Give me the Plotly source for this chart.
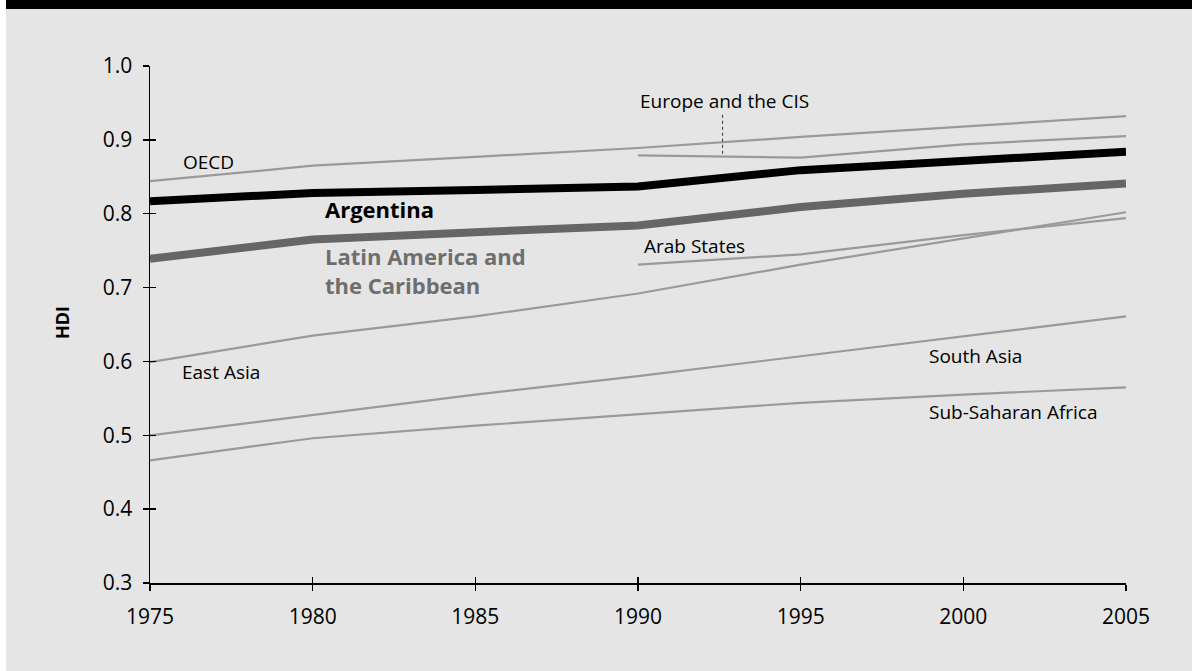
import plotly.graph_objects as go

# ---- data ----
years = [1975, 1980, 1985, 1990, 1995, 2000, 2005]
years_late = [1990, 1995, 2000, 2005]

oecd = [0.844, 0.865, 0.877, 0.889, 0.904, 0.918, 0.932]
europe_cis = [0.879, 0.876, 0.894, 0.905]
arab_states = [0.731, 0.745, 0.771, 0.794]
east_asia = [0.599, 0.635, 0.661, 0.692, 0.731, 0.767, 0.802]
south_asia = [0.500, 0.528, 0.555, 0.580, 0.607, 0.634, 0.661]
ssa = [0.466, 0.496, 0.513, 0.529, 0.544, 0.555, 0.565]
lac = [0.739, 0.765, 0.775, 0.784, 0.809, 0.827, 0.841]
argentina = [0.817, 0.828, 0.832, 0.837, 0.859, 0.872, 0.884]

y_ticks = [0.3, 0.4, 0.5, 0.6, 0.7, 0.8, 0.9, 1.0]
x_ticks = years

# ---- styling ----
W, H = 1192, 671
FONT = "Open Sans, Noto Sans, sans-serif"
THIN = "#9a9a9a"
LAC_COL = "#666666"
LAC_TXT = "#6e6e6e"
BG = "#e5e5e5"

# plot area in pixels
PX_L, PX_R = 150, 1126
PX_T, PX_B = 66, 583
xdom = [PX_L / W, PX_R / W]
ydom = [(H - PX_B) / H, (H - PX_T) / H]

fig = go.Figure()

thin_series = [
    ("OECD", years, oecd),
    ("Europe and the CIS", years_late, europe_cis),
    ("Arab States", years_late, arab_states),
    ("East Asia", years, east_asia),
    ("South Asia", years, south_asia),
]
for name, xs, ys in thin_series:
    fig.add_trace(go.Scatter(x=xs, y=ys, mode="lines", name=name,
                             line=dict(color=THIN, width=2.2), hoverinfo="skip"))
# this one on the overlay axes (same ranges) so the inside ticks render
fig.add_trace(go.Scatter(x=years, y=ssa, mode="lines", name="Sub-Saharan Africa",
                         xaxis="x2", yaxis="y2",
                         line=dict(color=THIN, width=2.2), hoverinfo="skip"))
fig.add_trace(go.Scatter(x=years, y=lac, mode="lines", name="Latin America and the Caribbean",
                         line=dict(color=LAC_COL, width=8), hoverinfo="skip"))
fig.add_trace(go.Scatter(x=years, y=argentina, mode="lines", name="Argentina",
                         line=dict(color="#000000", width=8), hoverinfo="skip"))

# ---- labels ----
labels = [
    ("OECD", 1975.95, 0.870, 19, "#000000", False),
    ("Europe and the CIS", 1990.0, 0.952, 19, "#000000", False),
    ("Arab States", 1990.12, 0.756, 19, "#000000", False),
    ("East Asia", 1975.92, 0.586, 19, "#000000", False),
    ("South Asia", 1998.88, 0.607, 19, "#000000", False),
    ("Sub-Saharan Africa", 1998.88, 0.531, 19, "#000000", False),
    ("Argentina", 1980.32, 0.806, 22, "#000000", True),
    ("Latin America and<br>the Caribbean", 1980.32, 0.7225, 22, LAC_TXT, True),
]
for text, lx, ly, size, col, bold in labels:
    fig.add_annotation(x=lx, y=ly, xref="x", yref="y", text=f"<b>{text}</b>" if bold else text,
                       showarrow=False, xanchor="left", yanchor="middle", align="left",
                       font=dict(family=FONT, size=size, color=col))

# dotted leader for Europe and the CIS
fig.add_shape(type="line", xref="x", yref="y", x0=1992.6, x1=1992.6, y0=0.934, y1=0.878,
              line=dict(color="#333333", width=1, dash="dot"))

fig.add_annotation(x=62 / W, y=(H - 323) / H, xref="paper", yref="paper", text="<b>HDI</b>",
                   textangle=-90, showarrow=False, xanchor="center", yanchor="middle",
                   font=dict(family=FONT, size=18, color="#000000"))

# background panel and top band
fig.add_shape(type="rect", xref="paper", yref="paper", x0=6 / W, x1=1, y0=0, y1=(H - 9) / H,
              fillcolor=BG, line=dict(width=0), layer="below")
fig.add_shape(type="rect", xref="paper", yref="paper", x0=6 / W, x1=1, y0=(H - 9) / H, y1=1,
              fillcolor="#000000", line=dict(width=0), layer="below")

axis_common = dict(showgrid=False, zeroline=False, linecolor="#000000", linewidth=1.5,
                   tickcolor="#000000", tickwidth=1.5, ticklen=6, automargin=False)

fig.update_layout(
    template="none",
    width=W, height=H,
    autosize=False,
    margin=dict(l=0, r=0, t=0, b=0, pad=0),
    paper_bgcolor="#ffffff",
    plot_bgcolor="rgba(0,0,0,0)",
    showlegend=False,
    hovermode=False,
    font=dict(family=FONT, color="#000000"),
    xaxis=dict(domain=xdom, range=[1975, 2005], tickvals=x_ticks,
               ticktext=[str(v) for v in x_ticks], ticks="outside", showline=True,
               anchor="y", ticklabelstandoff=8,
               tickfont=dict(family=FONT, size=21, color="#000000"), **axis_common),
    yaxis=dict(domain=ydom, range=[0.3, 1.0], tickvals=y_ticks,
               ticktext=[f"{v:.1f}" for v in y_ticks], ticks="outside", showline=True,
               anchor="x", ticklabelstandoff=6,
               tickfont=dict(family=FONT, size=21, color="#000000"), **axis_common),
    xaxis2=dict(overlaying="x", range=[1975, 2005], tickvals=x_ticks, ticks="inside",
                showticklabels=False, showline=False, anchor="y2", **axis_common),
    yaxis2=dict(overlaying="y", range=[0.3, 1.0], tickvals=y_ticks, ticks="inside",
                showticklabels=False, showline=False, anchor="x2", side="left", **axis_common),
)

post = ("document.documentElement.style.margin='0';document.body.style.margin='0';"
        "document.body.style.padding='0';document.body.style.overflow='hidden';")
fig.write_html("out.html", post_script=post, config={"displayModeBar": False, "staticPlot": True})
